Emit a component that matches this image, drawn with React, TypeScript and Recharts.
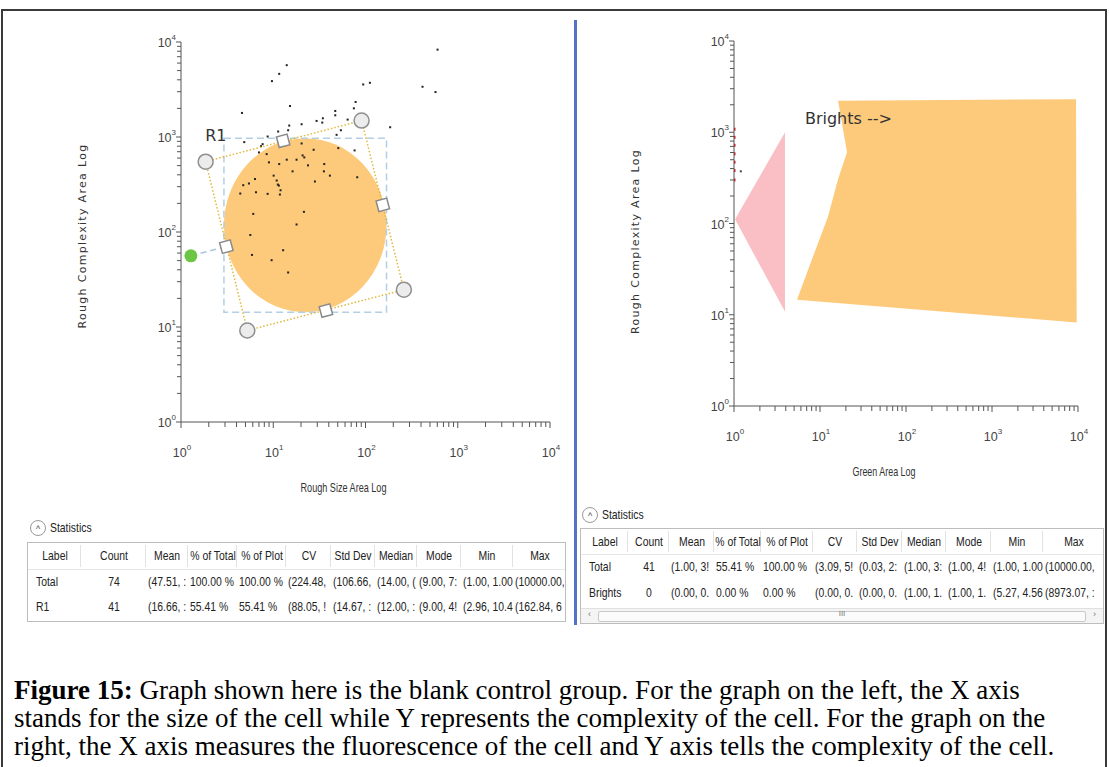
import React from "react";
import {
  ReferenceArea,
  ReferenceDot,
  Scatter,
  ScatterChart,
  XAxis,
  YAxis,
} from "recharts";

// log axis ticks, 10^0 .. 10^4 (decades plus 2..9 minor ticks)
const logTicks = [
  1, 2, 3, 4, 5, 6, 7, 8, 9, 10, 20, 30, 40, 50, 60, 70, 80, 90, 100, 200,
  300, 400, 500, 600, 700, 800, 900, 1000, 2000, 3000, 4000, 5000, 6000, 7000,
  8000, 9000, 10000,
];

// left plot events: Rough Size Area vs Rough Complexity Area
const sizeArea = [
  604, 14.0, 11.6, 9.68, 111.6, 94.4, 415, 574, 78.1, 74.8, 15.2, 4.58, 47.0,
  47.0, 34.5, 34.0, 29.5, 64.0, 185, 20.3, 14.9, 14.5, 11.3, 8.69, 54.1, 48.6,
  76.2, 4.85, 7.36, 7.67, 7.0, 8.48, 20.3, 27.4, 50.7, 14.0, 17.9, 20.8, 21.7,
  23.8, 35.7, 35.4, 41.1, 16.2, 11.6, 8.98, 10.1, 10.9, 11.2, 11.5, 12.0, 11.8,
  6.34, 5.45, 4.73, 4.39, 6.5, 8.69, 28.3, 81.3, 21.5, 6.07, 17.9, 5.64, 12.8,
  5.88, 9.6, 14.5,
];
const complexityArea = [
  8310, 5700, 4620, 3875, 3720, 3573, 3380, 2972, 2335, 2004, 2120, 1792, 1880,
  1693, 1574, 1419, 1476, 1525, 1267, 1362, 1320, 1178, 1142, 1012, 1178, 1054,
  722, 883, 801, 841, 688, 661, 855, 734, 764, 577, 577, 640, 610, 503, 519,
  435, 392, 435, 519, 541, 392, 348, 316, 308, 275, 248, 361, 324, 311, 254,
  262, 252, 340, 377, 163, 155, 120, 93, 64.3, 57.4, 50.5, 37.5,
];

// R1 gate (ellipse bounding box) and its rotation frame
const r1Bounds = { x1: 2.92, x2: 169, y1: 14.3, y2: 971 };
const r1Corners = [
  { x: 1.85, y: 550 },
  { x: 90.7, y: 1489 },
  { x: 260.6, y: 24.7 },
  { x: 5.23, y: 9.19 },
];
const r1Sides = [
  { x: 12.8, y: 912 },
  { x: 154, y: 193 },
  { x: 37.2, y: 14.9 },
  { x: 3.1, y: 70.2 },
];
const r1Rotate = [
  { x: 1.28, y: 56.1 },
  { x: 3.1, y: 70.2 },
];

// right plot: Green Area vs Rough Complexity Area
const greenArea = [1, 1, 1, 1, 1, 1, 1, 1.2];
const greenComplexity = [1080, 880, 720, 580, 470, 380, 300, 373];
const negativeGate = [
  { x: 1.03, y: 111 },
  { x: 3.92, y: 1000 },
  { x: 3.92, y: 10.8 },
];
const brightsGate = [
  { x: 16.2, y: 2208 },
  { x: 20.6, y: 603 },
  { x: 16.2, y: 305 },
  { x: 12.4, y: 119 },
  { x: 8.29, y: 43.4 },
  { x: 5.4, y: 14.6 },
  { x: 9660, y: 8.23 },
  { x: 9480, y: 2305 },
];

// statistics tables
const statsHeader = ["Label", "Count", "Mean", "% of Total", "% of Plot", "CV", "Std Dev", "Median", "Mode", "Min", "Max"];
const leftRows = [
  ["Total", "74", "(47.51, :", "100.00 %", "100.00 %", "(224.48,", "(106.66,", "(14.00, (", "(9.00, 7:", "(1.00, 1.00", "(10000.00,"],
  ["R1", "41", "(16.66, :", "55.41 %", "55.41 %", "(88.05, !", "(14.67, :", "(12.00, :", "(9.00, 4!", "(2.96, 10.4", "(162.84, 6"],
];
const rightRows = [
  ["Total", "41", "(1.00, 3!", "55.41 %", "100.00 %", "(3.09, 5!", "(0.03, 2:", "(1.00, 3:", "(1.00, 4!", "(1.00, 1.00", "(10000.00,"],
  ["Brights", "0", "(0.00, 0.", "0.00 %", "0.00 %", "(0.00, 0.", "(0.00, 0.", "(1.00, 1.", "(1.00, 1.", "(5.27, 4.56", "(8973.07, :"],
];
const leftColWidths = [53, 65, 42, 49, 49, 45, 44, 42, 44, 52, 54];
const rightColWidths = [47, 41, 45, 47, 52, 44, 45, 44, 45, 52, 62];

const leftEvents = sizeArea.map((x, i) => ({ x, y: complexityArea[i] }));
const rightEvents = greenArea.map((x, i) => ({ x, y: greenComplexity[i] }));

const SANS = '"Liberation Sans", Arial, sans-serif';
const GATE_ORANGE = "#fdca7b";

const isDecade = (v: number) =>
  Math.abs(Math.log10(v) - Math.round(Math.log10(v))) < 1e-6;

function XTick(props: any) {
  const { x, y, payload } = props;
  const major = isDecade(payload.value);
  return (
    <g>
      <line x1={x} x2={x} y1={y} y2={y + (major ? 6 : 5)} stroke="#555" />
      {major && (
        <text x={x + 1} y={y + 35} textAnchor="middle" fontSize={12.5} fill="#444" fontFamily={SANS}>
          10
          <tspan dy={-7} fontSize={8}>
            {Math.round(Math.log10(payload.value))}
          </tspan>
        </text>
      )}
    </g>
  );
}

function YTick(props: any) {
  const { x, y, payload } = props;
  const major = isDecade(payload.value);
  return (
    <g>
      <line x1={x - (major ? 5 : 4)} x2={x} y1={y} y2={y} stroke="#555" />
      {major && (
        <text x={x - 5} y={y + 5} textAnchor="end" fontSize={12.5} fill="#444" fontFamily={SANS}>
          10
          <tspan dy={-7} fontSize={8}>
            {Math.round(Math.log10(payload.value))}
          </tspan>
        </text>
      )}
    </g>
  );
}

const yTitle = (text: string, shift: number) => (props: any) => {
  const vb = props.viewBox;
  const cx = vb.x - 38;
  const cy = vb.y + vb.height / 2 + shift;
  return (
    <text
      x={cx}
      y={cy}
      transform={`rotate(-90 ${cx} ${cy})`}
      textAnchor="middle"
      dominantBaseline="middle"
      fontSize={11}
      letterSpacing={1.3}
      fontWeight={500}
      fill="#333"
      fontFamily='"DejaVu Sans", Verdana, sans-serif'
    >
      {text}
    </text>
  );
};

const xTitle = (text: string, len: number) => (props: any) => {
  const vb = props.viewBox;
  return (
    <text
      x={vb.x + vb.width / 2 - 22}
      y={vb.y + 70}
      textAnchor="middle"
      fontSize={13}
      fill="#333"
      fontFamily={SANS}
      textLength={len}
      lengthAdjust="spacingAndGlyphs"
    >
      {text}
    </text>
  );
};

const EventDot = (p: any) => (
  <rect x={p.cx - 1} y={p.cy - 1} width={2} height={2} fill="#222" />
);
const RedEvent = (p: any) =>
  p.payload.x > 1 ? (
    <rect x={p.cx - 1} y={p.cy - 1} width={2} height={2} fill="#444" />
  ) : (
    <rect x={p.cx - 1} y={p.cy - 1.5} width={2.5} height={3} fill="#b8282c" />
  );
const NoDot = () => <g />;
const CornerHandle = (p: any) => (
  <circle cx={p.cx} cy={p.cy} r={7.5} fill="#ececec" stroke="#8f8f8f" strokeWidth={1.5} />
);
const SideHandle = (p: any) => (
  <rect
    x={p.cx - 5.5}
    y={p.cy - 5.5}
    width={11}
    height={11}
    fill="#fff"
    stroke="#8a8a8a"
    strokeWidth={1.5}
    transform={`rotate(-15 ${p.cx} ${p.cy})`}
  />
);
const RotateHandle = (p: any) =>
  p.index === 0 ? <circle cx={p.cx} cy={p.cy} r={6.5} fill="#6cc644" /> : <g />;

function StatsTable({
  left,
  top,
  widths,
  rows,
  headerH,
  rowH,
  height,
  scroll,
}: {
  left: number;
  top: number;
  widths: number[];
  rows: string[][];
  headerH: number;
  rowH: number;
  height: number;
  scroll?: boolean;
}) {
  const total = widths.reduce((a, b) => a + b, 0);
  const starts = widths.map((_, i) => widths.slice(0, i).reduce((a, b) => a + b, 0));
  const cell = (text: string, col: number, cy: number, center: boolean, key: string) => (
    <div
      key={key}
      style={{
        position: "absolute",
        left: starts[col],
        top: cy - 8,
        width: widths[col],
        height: 16,
        overflow: "hidden",
      }}
    >
      <span
        style={{
          position: "absolute",
          left: center ? widths[col] / 2 : col === 0 ? 8 : 2,
          top: 0,
          whiteSpace: "nowrap",
          fontSize: 13,
          lineHeight: "16px",
          color: "#222",
          transform: center ? "translateX(-50%) scaleX(0.8)" : "scaleX(0.8)",
          transformOrigin: center ? "center" : "left",
        }}
      >
        {text}
      </span>
    </div>
  );
  return (
    <div
      style={{
        position: "absolute",
        left,
        top,
        width: total,
        height,
        border: "1px solid #bdbdbd",
        boxSizing: "border-box",
        fontFamily: SANS,
        background: "#fff",
      }}
    >
      {widths.slice(0, -1).map((_, i) => (
        <div
          key={"sep" + i}
          style={{
            position: "absolute",
            left: starts[i + 1] - 1,
            top: 2,
            width: 1,
            height: headerH - 4,
            background: "#e2e2e2",
          }}
        />
      ))}
      <div style={{ position: "absolute", left: 0, top: headerH, width: total - 2, height: 1, background: "#e6e6e6" }} />
      {statsHeader.map((h, i) => cell(h, i, headerH / 2, true, "h" + i))}
      {rows.map((r, ri) =>
        r.map((t, ci) => cell(t, ci, headerH + rowH * ri + rowH / 2, ci === 1, `r${ri}c${ci}`))
      )}
      {scroll && (
        <div
          style={{
            position: "absolute",
            left: 0,
            bottom: 0,
            width: total - 2,
            height: 14,
            background: "#f4f4f4",
            borderTop: "1px solid #e0e0e0",
            fontSize: 9,
            color: "#777",
          }}
        >
          <span style={{ position: "absolute", left: 7, top: 0 }}>‹</span>
          <div
            style={{
              position: "absolute",
              left: 17,
              right: 17,
              top: 2,
              height: 9,
              border: "1px solid #c8c8c8",
              borderRadius: 2,
              background: "#fbfbfb",
            }}
          >
            <span style={{ position: "absolute", left: "50%", top: -3, transform: "translateX(-50%)", fontSize: 8 }}>
              III
            </span>
          </div>
          <span style={{ position: "absolute", right: 7, top: 0 }}>›</span>
        </div>
      )}
    </div>
  );
}

function StatsToggle({ left, top }: { left: number; top: number }) {
  return (
    <div style={{ position: "absolute", left, top, fontFamily: SANS, height: 16 }}>
      <div
        style={{
          position: "absolute",
          left: 0,
          top: 0,
          width: 14,
          height: 14,
          borderRadius: 8,
          border: "1px solid #999",
          fontSize: 9,
          lineHeight: "16px",
          textAlign: "center",
          color: "#444",
        }}
      >
        ^
      </div>
      <span
        style={{
          position: "absolute",
          left: 20,
          top: 0,
          whiteSpace: "nowrap",
          fontSize: 13,
          lineHeight: "16px",
          color: "#222",
          transform: "scaleX(0.8)",
          transformOrigin: "left",
        }}
      >
        Statistics
      </span>
    </div>
  );
}

export default function App() {
  const axisLine = { stroke: "#555" };
  return (
    <div
      style={{
        position: "absolute",
        left: 0,
        top: 0,
        width: 1109,
        height: 767,
        background: "#fff",
        overflow: "hidden",
      }}
    >
      <div
        style={{
          position: "absolute",
          left: 1,
          top: 9,
          width: 1106,
          height: 770,
          border: "2px solid #3a3a3a",
          boxSizing: "border-box",
        }}
      />
      <div style={{ position: "absolute", left: 574, top: 20, width: 3, height: 605, background: "#5473c8" }} />

      <div style={{ position: "absolute", left: 0, top: 0 }}>
        <ScatterChart width={575} height={500} margin={{ top: 42, right: 25, bottom: 38, left: 121 }}>
          <XAxis
            dataKey="x"
            type="number"
            scale="log"
            domain={[1, 10000]}
            ticks={logTicks}
            interval={0}
            allowDataOverflow
            height={40}
            tickSize={0}
            tickMargin={0}
            tickLine={false}
            axisLine={axisLine}
            tick={<XTick />}
            label={{ content: xTitle("Rough Size Area Log", 86) }}
          />
          <YAxis
            dataKey="y"
            type="number"
            scale="log"
            domain={[1, 10000]}
            ticks={logTicks}
            interval={0}
            allowDataOverflow
            width={60}
            tickSize={0}
            tickMargin={0}
            tickLine={false}
            axisLine={axisLine}
            tick={<YTick />}
            label={{ content: yTitle("Rough Complexity Area Log", 4) }}
          />
          <ReferenceArea
            x1={r1Bounds.x1}
            x2={r1Bounds.x2}
            y1={r1Bounds.y1}
            y2={r1Bounds.y2}
            shape={(p: any) => (
              <ellipse
                cx={p.x + p.width / 2}
                cy={p.y + p.height / 2}
                rx={p.width / 2}
                ry={p.height / 2}
                fill={GATE_ORANGE}
              />
            )}
          />
          <ReferenceArea
            x1={r1Bounds.x1}
            x2={r1Bounds.x2}
            y1={r1Bounds.y1}
            y2={r1Bounds.y2}
            fill="none"
            fillOpacity={0}
            stroke="#b3cfe3"
            strokeWidth={1.5}
            strokeDasharray="7 4"
          />
          <Scatter data={leftEvents} shape={EventDot} isAnimationActive={false} />
          <Scatter
            data={r1Corners}
            shape={CornerHandle}
            line={{ stroke: "#e2b83c", strokeWidth: 1.5, strokeDasharray: "1.5 2", fill: "none" }}
            lineJointType="linearClosed"
            isAnimationActive={false}
          />
          <Scatter
            data={r1Rotate}
            shape={RotateHandle}
            line={{ stroke: "#a9c7dc", strokeWidth: 1.5, strokeDasharray: "6 4", fill: "none" }}
            isAnimationActive={false}
          />
          <Scatter data={r1Sides} shape={SideHandle} isAnimationActive={false} />
          <ReferenceDot
            x={2.39}
            y={1037}
            r={0}
            fill="none"
            stroke="none"
            label={{ value: "R1", position: "center", fontSize: 16, fill: "#333", fontFamily: '"DejaVu Sans", sans-serif' }}
          />
        </ScatterChart>
      </div>

      <div style={{ position: "absolute", left: 575, top: 0 }}>
        <ScatterChart width={534} height={500} margin={{ top: 41, right: 31, bottom: 54, left: 99 }}>
          <XAxis
            dataKey="x"
            type="number"
            scale="log"
            domain={[1, 10000]}
            ticks={logTicks}
            interval={0}
            allowDataOverflow
            height={40}
            tickSize={0}
            tickMargin={0}
            tickLine={false}
            axisLine={axisLine}
            tick={<XTick />}
            label={{ content: xTitle("Green Area Log", 63) }}
          />
          <YAxis
            dataKey="y"
            type="number"
            scale="log"
            domain={[1, 10000]}
            ticks={logTicks}
            interval={0}
            allowDataOverflow
            width={60}
            tickSize={0}
            tickMargin={0}
            tickLine={false}
            axisLine={axisLine}
            tick={<YTick />}
            label={{ content: yTitle("Rough Complexity Area Log", 18) }}
          />
          <Scatter
            data={negativeGate}
            shape={NoDot}
            line={{ fill: "#f9bfc4", stroke: "none" }}
            lineJointType="linearClosed"
            isAnimationActive={false}
          />
          <Scatter
            data={brightsGate}
            shape={NoDot}
            line={{ fill: GATE_ORANGE, stroke: "none" }}
            lineJointType="linearClosed"
            isAnimationActive={false}
          />
          <Scatter data={rightEvents} shape={RedEvent} isAnimationActive={false} />
          <ReferenceDot
            x={21.4}
            y={1425}
            r={0}
            fill="none"
            stroke="none"
            label={{ value: "Brights -->", position: "center", fontSize: 16, fill: "#333", fontFamily: '"DejaVu Sans", sans-serif' }}
          />
        </ScatterChart>
      </div>

      <StatsToggle left={30} top={520} />
      <StatsTable left={27} top={542} widths={leftColWidths} rows={leftRows} headerH={26} rowH={25} height={80} />
      <StatsToggle left={582} top={507} />
      <StatsTable left={580} top={528} widths={rightColWidths} rows={rightRows} headerH={25} rowH={26} height={96} scroll />

      <div
        style={{
          position: "absolute",
          left: 14,
          top: 676,
          whiteSpace: "nowrap",
          fontFamily: '"Liberation Serif", "Times New Roman", serif',
          fontSize: 27,
          lineHeight: "28px",
          color: "#000",
        }}
      >
        <b>Figure 15:</b> Graph shown here is the blank control group. For the graph on the left, the X axis
        <br />
        stands for the size of the cell while Y represents the complexity of the cell. For the graph on the
        <br />
        right, the X axis measures the fluorescence of the cell and Y axis tells the complexity of the cell.
      </div>
    </div>
  );
}
